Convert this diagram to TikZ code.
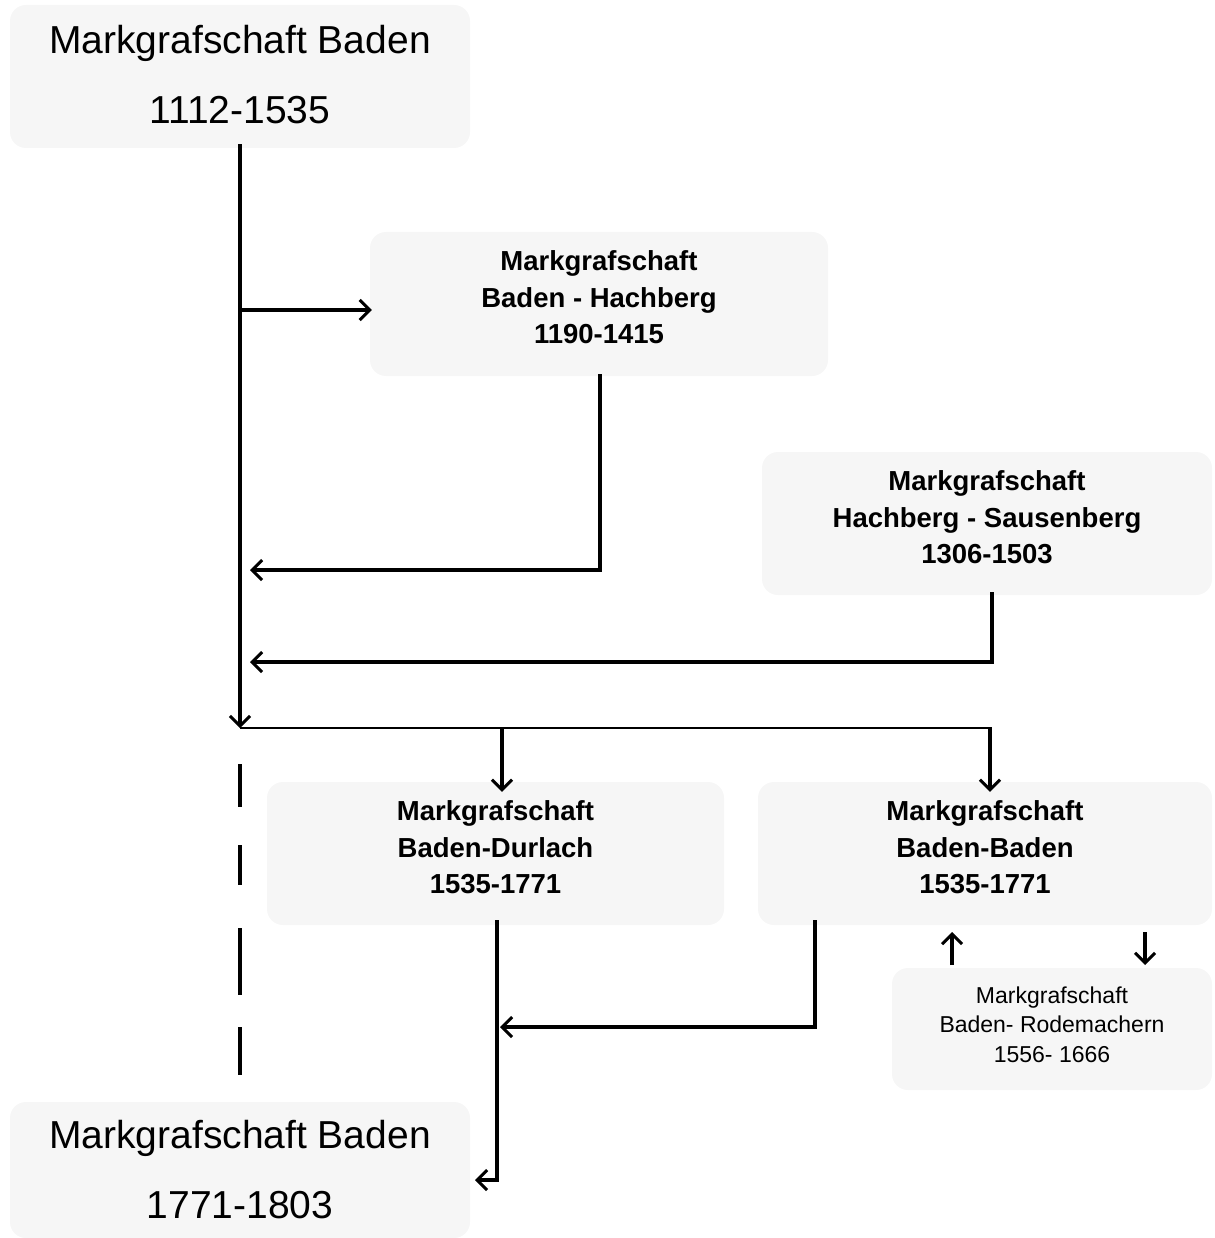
\documentclass[tikz,border=0pt]{standalone}
\usepackage{fontspec}
\setmainfont{Liberation Sans}
\usetikzlibrary{arrows.meta}
\definecolor{boxfill}{RGB}{246,246,246}
\begin{document}
\begin{tikzpicture}[x=1pt,y=-1pt,
  box/.style={fill=boxfill, rounded corners=16pt, inner sep=0pt},
  bigbox/.style={box, minimum width=460pt, minimum height=143pt},
  midbox/.style={box, minimum width=455pt, minimum height=143pt},
  smallbox/.style={box, minimum width=320pt, minimum height=122pt},
  bigtxt/.style={align=center, inner sep=0pt, font=\fontsize{39}{70}\selectfont},
  midtxt/.style={align=center, inner sep=0pt, font=\fontsize{27.5}{36.5}\selectfont\bfseries},
  smalltxt/.style={align=center, inner sep=0pt, font=\fontsize{23}{29.5}\selectfont},
  conn/.style={line width=3.2pt, line cap=butt},
  arr/.style={conn, -{Straight Barb[length=10pt,width=20pt,line width=3pt]}},
]
\useasboundingbox (0,0) rectangle (1214,1238);

% boxes
\node[bigbox] (b1) at (240,76.5) {};
\node[bigtxt] (b1t) at (240,75) {Markgrafschaft Baden\\1112-1535};
\node[midbox, minimum width=458pt, minimum height=144pt] (b2) at (599,304) {};
\node[midtxt] (b2t) at (599,297.5) {Markgrafschaft\\Baden - Hachberg\\1190-1415};
\node[midbox, minimum width=450pt] (b3) at (987,523.5) {};
\node[midtxt] (b3t) at (987,517.5) {Markgrafschaft\\Hachberg - Sausenberg\\1306-1503};
\node[midbox, minimum width=457pt] (b4) at (495.5,853.5) {};
\node[midtxt] (b4t) at (495.5,847.5) {Markgrafschaft\\Baden-Durlach\\1535-1771};
\node[midbox, minimum width=454pt] (b5) at (985,853.5) {};
\node[midtxt] (b5t) at (985,847.5) {Markgrafschaft\\Baden-Baden\\1535-1771};
\node[smallbox] (b6) at (1052,1029) {};
\node[smalltxt] (b6t) at (1052,1024.5) {Markgrafschaft\\Baden- Rodemachern\\1556- 1666};
\node[bigbox, minimum height=136pt] (b7) at (240,1170) {};
\node[bigtxt] (b7t) at (240,1170) {Markgrafschaft Baden\\1771-1803};

% junction coordinates
\coordinate (j) at (240,728);
\coordinate (m1) at (240,310);
\coordinate (t1) at (250,570);
\coordinate (t2) at (250,662);
\coordinate (jr) at (992,728);
\coordinate (d4) at (502,728);
\coordinate (d5) at (990,728);
\coordinate (t4) at (500,1027);
\coordinate (t7) at (475,1180);
\coordinate (u1) at (952,965);
\coordinate (u2) at (952,932);
\coordinate (v1) at (1145,932);
\coordinate (v2) at (1145,965);

% main line
\draw[arr] ([yshift=4pt]b1.south) -- (j);
\draw[arr] (m1) -- ([xshift=2pt]m1 -| b2.west);
\draw[arr] ([xshift=1pt,yshift=2pt]b2.south) |- (t1);
\draw[arr] ([xshift=5pt,yshift=3pt]b3.south) |- (t2);

% distribution line
\draw[line width=2pt] (j) -- (jr);
\draw[arr] (d4) -- ([yshift=-10pt]b4.north -| d4);
\draw[arr] (d5) -- ([yshift=-10pt]b5.north -| d5);

% dashed continuation
\draw[conn, dash pattern=on 43pt off 38pt on 40pt off 43pt on 67pt off 32pt on 48pt off 100pt] (240,764) -- (240,1075);

% from Baden-Durlach to Baden
\draw[arr] ([xshift=1.5pt,yshift=5pt]b4.south) |- (t7);
% from Baden-Baden to Baden-Durlach line
\draw[arr] ([xshift=-170pt,yshift=5pt]b5.south) |- (t4);

% Rodemachern exchange
\draw[arr] (u1) -- (u2);
\draw[arr] (v1) -- (v2);
\end{tikzpicture}
\end{document}
